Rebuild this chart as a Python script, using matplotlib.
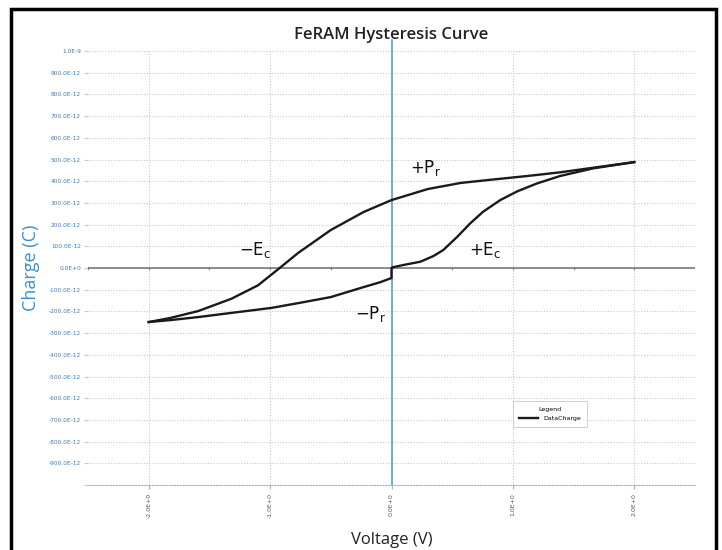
import matplotlib
matplotlib.use("Agg")
import matplotlib.pyplot as plt
from matplotlib.patches import Rectangle
import numpy as np

# Data (Voltage in V, Charge in units of 100E-12 C)
lower_v = [-2.0, -1.82, -1.59, -1.32, -0.99, -0.75, -0.50, -0.23, -0.09, 0.0, 0.0,
           0.008, 0.099, 0.238, 0.345, 0.427, 0.542, 0.649, 0.756, 0.896, 1.035, 1.20, 1.389, 1.66, 2.0]
lower_q = [-2.49, -2.40, -2.26, -2.07, -1.84, -1.60, -1.34, -0.88, -0.65, -0.46, 0.0,
           0.03, 0.14, 0.29, 0.55, 0.83, 1.44, 2.06, 2.60, 3.13, 3.53, 3.90, 4.24, 4.59, 4.88]
upper_v = [2.0, 1.66, 1.39, 1.12, 0.84, 0.57, 0.30, 0.0, -0.23, -0.50, -0.77, -0.91,
           -1.10, -1.32, -1.59, -1.82, -2.0]
upper_q = [4.88, 4.62, 4.41, 4.24, 4.08, 3.92, 3.64, 3.13, 2.58, 1.75, 0.69, 0.05,
           -0.80, -1.42, -1.98, -2.30, -2.49]

x_ticks = [-2.0, -1.0, 0.0, 1.0, 2.0]
x_tick_labels = ["-2.0E+0", "-1.0E+0", "0.0E+0", "1.0E+0", "2.0E+0"]
y_ticks = [10, 9, 8, 7, 6, 5, 4, 3, 2, 1, 0, -1, -2, -3, -4, -5, -6, -7, -8, -9, -10]
y_tick_labels = ["1.0E-9"] + [f"{k}00.0E-12" for k in range(9, 0, -1)] + ["0.0E+0"] + \
                [f"-{k}00.0E-12" for k in range(1, 10)] + [""]

fig = plt.figure(figsize=(7.22, 5.5), dpi=100)
ax = fig.add_axes([88/722, 1-485/550, 607/722, 434/550])

scale = 1e-10
ax.set_xlim(-2.5, 2.5)
ax.set_ylim(-1e-9, 1e-9)

# grid
for yt in y_ticks:
    ax.axhline(yt*scale, color="#c8c8c8", lw=0.8, ls=(0, (1, 1.5)), zorder=1)
for xt in x_ticks:
    ax.axvline(xt, color="#c8c8c8", lw=0.8, ls=(0, (1, 1.5)), zorder=1)

# zero axes
ax.axhline(0, color="#7a7a7a", lw=1.2, zorder=2)
ax.plot([0, 0], [-1e-9, 1.05e-9], color="#5a9fd4", lw=1.2, zorder=2, clip_on=False)
for xt in np.arange(-2.5, 2.51, 0.5):
    ax.plot([xt, xt], [-0.06e-10, 0.06e-10], color="#7a7a7a", lw=0.8, zorder=2)

# curve
ax.plot(lower_v, np.array(lower_q)*scale, color="#1a1a1a", lw=1.7, zorder=3,
        label="DataCharge", solid_joinstyle="round")
ax.plot(upper_v, np.array(upper_q)*scale, color="#1a1a1a", lw=1.7, zorder=3,
        solid_joinstyle="round")

# spines
for s in ["top", "right", "left"]:
    ax.spines[s].set_visible(False)
ax.spines["bottom"].set_color("#b0b0b0")
ax.spines["bottom"].set_linestyle((0, (1, 1.5)))
ax.spines["bottom"].set_linewidth(0.8)

ax.set_xticks(x_ticks)
ax.set_xticklabels(x_tick_labels, rotation=90, fontsize=4.5, color="#555555")
ax.set_yticks([t*scale for t in y_ticks])
ax.set_yticklabels(y_tick_labels, fontsize=4.2, color="#3a7fc0")
ax.tick_params(axis="y", length=3, color="#c8c8c8", pad=2)
ax.tick_params(axis="x", length=3, color="#b0b0b0", pad=3)

ax.set_ylabel("Charge (C)", fontsize=13, color="#3a8fd0", family="Open Sans", labelpad=6)
ax.set_xlabel("Voltage (V)", fontsize=12, color="#222222", family="Open Sans", labelpad=10)
fig.text(391/722, 1-35/550, "FeRAM Hysteresis Curve", ha="center", va="center",
         fontsize=12, color="#222222", family="Open Sans", fontweight="semibold")

# annotations
ann = dict(fontsize=12, color="#111111", family="DejaVu Sans", ha="center", va="center")
ax.text(0.28, 4.6*scale, r"$+\mathrm{P_r}$", **ann)
ax.text(-1.12, 0.85*scale, r"$-\mathrm{E_c}$", **ann)
ax.text(0.77, 0.85*scale, r"$+\mathrm{E_c}$", **ann)
ax.text(-0.17, -2.1*scale, r"$-\mathrm{P_r}$", **ann)

leg = ax.legend(loc="upper left", bbox_to_anchor=((510-88)/607, 1-(398-51)/434),
                fontsize=4.5, title="Legend", title_fontsize=4.5, frameon=True,
                fancybox=False, edgecolor="#bbbbbb", handlelength=3, borderpad=1.0)
leg.get_frame().set_linewidth(0.6)

# outer black frame
fig.patches.append(Rectangle((11/722, -0.01), (716-11)/722, 1-9/550+0.01,
                             transform=fig.transFigure, fill=False, edgecolor="black", lw=2.5))

fig.savefig("out.png", dpi=100)
